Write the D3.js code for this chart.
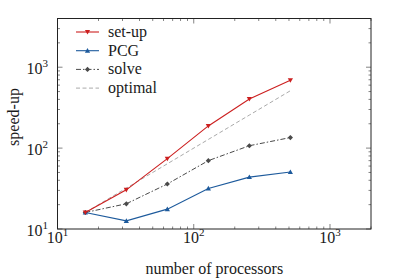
<!DOCTYPE html>
<html>
<head>
<meta charset="utf-8">
<script src="https://cdn.jsdelivr.net/npm/d3@7"></script>
<style>
  body { margin: 0; background: #fff; }
</style>
</head>
<body>
<div id="chart"></div>
<script>
const processors = [16, 32, 64, 128, 256, 512];
const setupValues = [16, 30.5, 74, 188, 405, 690];
const pcgValues = [16, 12.6, 17.6, 31.7, 43.8, 50.6];
const solveValues = [16, 20.5, 36, 70, 107, 135];
const optimalValues = [16, 32, 64, 128, 256, 512];
const seriesNames = ["set-up", "PCG", "solve", "optimal"];
const decadeTicks = [10, 100, 1000];

const width = 399, height = 279;
const margin = { left: 57.5, right: 28, top: 18.5, bottom: 50 };
const serif = '"Liberation Serif"';

const svg = d3.select("#chart").append("svg")
    .attr("width", width)
    .attr("height", height);

const x = d3.scaleLog().domain([10, 2000]).range([margin.left, width - margin.right]);
const y = d3.scaleLog().domain([10, 4000]).range([height - margin.bottom, margin.top]);

const styles = {
    "set-up": { color: "#cc1f1f", dash: null, marker: "down", width: 1.1 },
    "PCG": { color: "#1d5a9c", dash: null, marker: "up", width: 1.1 },
    "solve": { color: "#4a4a4a", dash: "5,2,1.5,2", marker: "diamond", width: 1 },
    "optimal": { color: "#aaaaaa", dash: "4,2.5", marker: null, width: 1 }
};
const seriesData = {
    "set-up": setupValues,
    "PCG": pcgValues,
    "solve": solveValues,
    "optimal": optimalValues
};

function addText(g, size) {
    return g.append("text")
        .style("font-family", serif)
        .attr("font-size", size)
        .attr("fill", "#1a1a1a");
}

// minor + major ticks inside on all four sides
const minorX = x.ticks(), minorY = y.ticks();
const tickG = svg.append("g").attr("stroke", "#333").attr("stroke-width", 0.6);
const isMajor = v => Math.abs(Math.log10(v) - Math.round(Math.log10(v))) < 1e-9;
minorX.forEach(v => {
    const len = isMajor(v) ? 5 : 2.5;
    tickG.append("line").attr("x1", x(v)).attr("x2", x(v)).attr("y1", y.range()[0]).attr("y2", y.range()[0] - len);
    tickG.append("line").attr("x1", x(v)).attr("x2", x(v)).attr("y1", y.range()[1]).attr("y2", y.range()[1] + len);
});
minorY.forEach(v => {
    const len = isMajor(v) ? 5 : 2.5;
    tickG.append("line").attr("y1", y(v)).attr("y2", y(v)).attr("x1", x.range()[0]).attr("x2", x.range()[0] + len);
    tickG.append("line").attr("y1", y(v)).attr("y2", y(v)).attr("x1", x.range()[1]).attr("x2", x.range()[1] - len);
});

svg.append("rect")
    .attr("x", x.range()[0]).attr("y", y.range()[1])
    .attr("width", x.range()[1] - x.range()[0])
    .attr("height", y.range()[0] - y.range()[1])
    .attr("fill", "none").attr("stroke", "#222").attr("stroke-width", 1);

function powerLabel(g, v) {
    const t = addText(g, 16);
    t.append("tspan").text("10");
    t.append("tspan").attr("font-size", 11).attr("dy", -7).text(Math.round(Math.log10(v)));
    return t;
}

decadeTicks.forEach(v => {
    powerLabel(svg, v).attr("x", x(v)).attr("y", y.range()[0] + 14).attr("text-anchor", "middle");
    powerLabel(svg, v).attr("x", x.range()[0] - 9.5).attr("y", y(v) + 7).attr("text-anchor", "end");
});

addText(svg, 16)
    .attr("x", (x.range()[0] + x.range()[1]) / 2)
    .attr("y", 274)
    .attr("text-anchor", "middle")
    .text("number of processors");

addText(svg, 16)
    .attr("transform", "translate(19,117) rotate(-90)")
    .attr("text-anchor", "middle")
    .text("speed-up");

function drawMarker(g, kind, cx, cy, color) {
    let pts;
    if (kind === "down") pts = [[-2.6, -2], [2.6, -2], [0, 2.6]];
    else if (kind === "up") pts = [[-2.6, 2], [2.6, 2], [0, -2.6]];
    else if (kind === "diamond") pts = [[0, -2.6], [2.6, 0], [0, 2.6], [-2.6, 0]];
    else return;
    g.append("polygon")
        .attr("points", pts.map(p => [cx + p[0], cy + p[1]].join(",")).join(" "))
        .attr("fill", color);
}

const line = d3.line().x(d => x(d[0])).y(d => y(d[1]));
const drawOrder = ["optimal", "solve", "PCG", "set-up"];
drawOrder.forEach(name => {
    const s = styles[name];
    const pts = processors.map((p, i) => [p, seriesData[name][i]]);
    const g = svg.append("g");
    g.append("path")
        .attr("d", line(pts))
        .attr("fill", "none")
        .attr("stroke", s.color)
        .attr("stroke-width", s.width)
        .attr("stroke-dasharray", s.dash);
    pts.forEach(p => drawMarker(g, s.marker, x(p[0]), y(p[1]), s.color));
});

// legend
const legend = svg.append("g");
seriesNames.forEach((name, i) => {
    const s = styles[name];
    const ly = 32 + i * 18.7;
    legend.append("line")
        .attr("x1", 76).attr("x2", 99).attr("y1", ly).attr("y2", ly)
        .attr("stroke", s.color).attr("stroke-width", s.width)
        .attr("stroke-dasharray", s.dash);
    drawMarker(legend, s.marker, 87.5, ly, s.color);
    addText(legend, 16)
        .attr("x", 108).attr("y", ly + 5)
        .text(name);
});
</script>
</body>
</html>
